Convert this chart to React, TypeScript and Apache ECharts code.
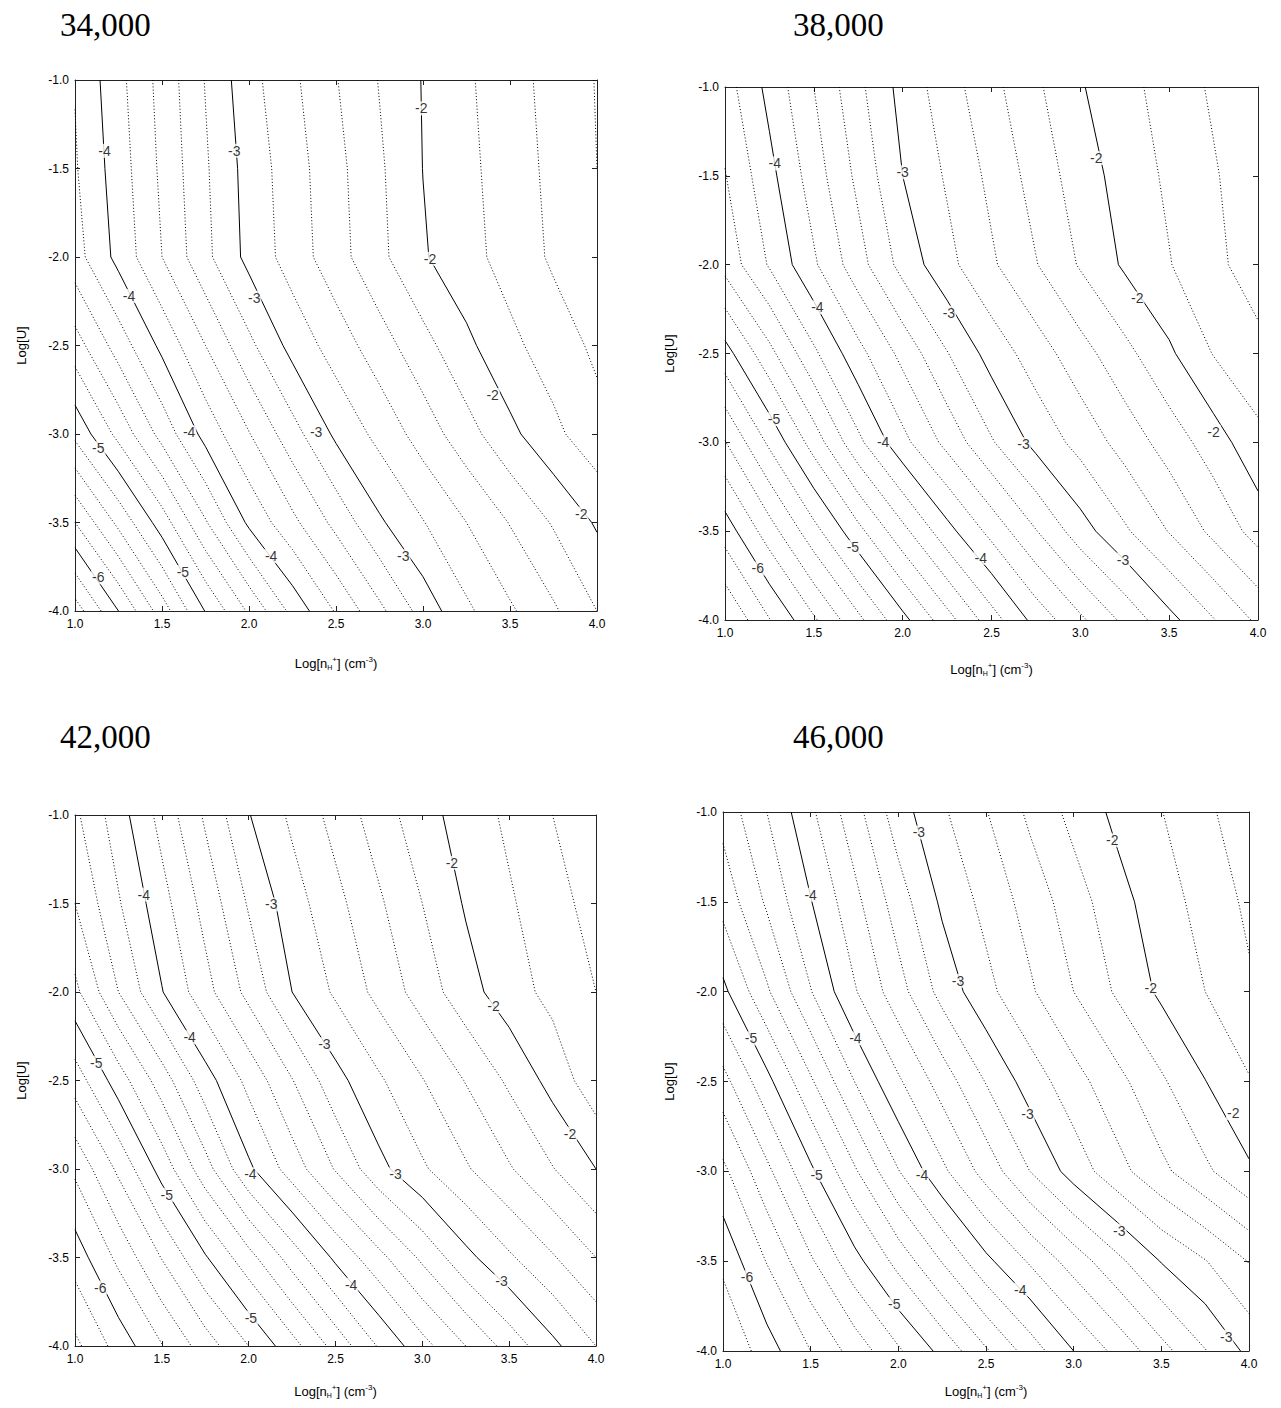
import React, { useEffect, useRef } from "react";
import * as echarts from "echarts";

// Grid nodes of the model field (log n_H+ across, log U down)
const X_NODES = [1.0, 1.25, 1.5, 1.75, 2.0, 2.25, 2.5, 2.75, 3.0, 3.25, 3.5, 3.75, 4.0];
const Y_NODES = [-1.0, -1.5, -2.0, -2.5, -3.0, -3.5, -4.0];

const Z_34000 = [
  [-4.19, -3.86, -3.53, -3.19, -2.87, -2.64, -2.41, -2.19, -1.99, -1.83, -1.68, -1.53, -1.39],
  [-4.22, -3.9, -3.56, -3.225, -2.92, -2.69, -2.46, -2.23, -1.997, -1.85, -1.7, -1.55, -1.4],
  [-4.28, -3.94, -3.6, -3.25, -2.94, -2.71, -2.48, -2.25, -2.02, -1.87, -1.72, -1.57, -1.43],
  [-4.69, -4.31, -3.95, -3.6, -3.25, -2.93, -2.71, -2.49, -2.27, -2.045, -1.85, -1.7, -1.56],
  [-5.15, -4.74, -4.33, -3.93, -3.61, -3.28, -2.96, -2.74, -2.51, -2.28, -2.05, -1.85, -1.67],
  [-5.8, -5.35, -4.9, -4.42, -3.96, -3.65, -3.34, -3.03, -2.81, -2.6, -2.39, -2.18, -1.975],
  [-6.5, -6.0, -5.5, -4.99, -4.57, -4.14, -3.78, -3.45, -3.12, -2.84, -2.63, -2.43, -2.2],
];
const Z_38000 = [
  [-4.29, -3.94, -3.6, -3.25, -2.93, -2.69, -2.46, -2.236, -2.017, -1.863, -1.716, -1.57, -1.42],
  [-4.41, -4.06, -3.7, -3.35, -3.0, -2.775, -2.55, -2.32, -2.1, -1.915, -1.765, -1.62, -1.47],
  [-4.53, -4.18, -3.83, -3.48, -3.13, -2.86, -2.63, -2.41, -2.18, -1.97, -1.81, -1.65, -1.5],
  [-5.08, -4.66, -4.24, -3.865, -3.54, -3.21, -2.92, -2.7, -2.48, -2.26, -2.035, -1.79, -1.66],
  [-5.61, -5.16, -4.71, -4.25, -3.86, -3.54, -3.22, -2.94, -2.73, -2.52, -2.31, -2.1, -1.855],
  [-6.11, -5.69, -5.27, -4.86, -4.46, -4.07, -3.735, -3.41, -3.09, -2.83, -2.59, -2.35, -2.12],
  [-6.6, -6.21, -5.83, -5.45, -5.06, -4.68, -4.29, -3.93, -3.64, -3.35, -3.06, -2.81, -2.56],
];
const Z_42000 = [
  [-4.44, -4.09, -3.73, -3.37, -3.01, -2.76, -2.53, -2.3, -2.08, -1.91, -1.76, -1.6, -1.44],
  [-4.6, -4.22, -3.875, -3.53, -3.18, -2.89, -2.66, -2.43, -2.2, -1.98, -1.825, -1.675, -1.525],
  [-4.85, -4.4, -4.01, -3.67, -3.34, -3.0, -2.77, -2.54, -2.31, -2.08, -1.89, -1.74, -1.6],
  [-5.31, -4.9, -4.5, -4.09, -3.74, -3.41, -3.07, -2.83, -2.61, -2.39, -2.165, -1.93, -1.67],
  [-5.76, -5.36, -4.92, -4.48, -4.04, -3.705, -3.385, -3.06, -2.83, -2.625, -2.42, -2.21, -2.0],
  [-6.11, -5.75, -5.39, -5.02, -4.67, -4.31, -3.96, -3.66, -3.36, -3.06, -2.83, -2.62, -2.4],
  [-6.45, -6.12, -5.81, -5.5, -5.2, -4.875, -4.53, -4.18, -3.87, -3.6, -3.32, -3.05, -2.8],
];
const Z_46000 = [
  [-4.53, -4.2, -3.84, -3.48, -3.09, -2.83, -2.61, -2.36, -2.136, -1.95, -1.806, -1.64, -1.485],
  [-4.73, -4.37, -4.01, -3.66, -3.3, -2.964, -2.74, -2.52, -2.295, -2.07, -1.89, -1.726, -1.56],
  [-5.05, -4.63, -4.21, -3.82, -3.48, -3.13, -2.86, -2.63, -2.4, -2.17, -1.96, -1.8, -1.63],
  [-5.47, -5.06, -4.63, -4.2, -3.83, -3.51, -3.19, -2.91, -2.68, -2.46, -2.23, -2.005, -1.815],
  [-5.85, -5.45, -5.04, -4.63, -4.21, -3.845, -3.52, -3.2, -2.915, -2.67, -2.45, -2.24, -2.03],
  [-6.15, -5.79, -5.43, -5.07, -4.73, -4.39, -4.05, -3.775, -3.51, -3.25, -2.99, -2.81, -2.59],
  [-6.4, -6.09, -5.8, -5.52, -5.23, -4.94, -4.625, -4.31, -4.0, -3.74, -3.47, -3.21, -2.95],
];

// Contour label positions [x, y, level]
const LABELS_34000 = [
  [2.99, -1.16, -2], [3.04, -2.01, -2], [3.4, -2.78, -2], [3.91, -3.45, -2],
  [1.915, -1.4, -3], [2.03, -2.23, -3], [2.386, -2.99, -3], [2.887, -3.69, -3],
  [1.17, -1.4, -4], [1.31, -2.22, -4], [1.656, -2.99, -4], [2.127, -3.69, -4],
  [1.134, -3.08, -5], [1.62, -3.78, -5],
  [1.134, -3.81, -6],
];
const LABELS_38000 = [
  [3.09, -1.4, -2], [3.32, -2.19, -2], [3.75, -2.94, -2],
  [2.0, -1.48, -3], [2.26, -2.27, -3], [2.68, -3.01, -3], [3.24, -3.66, -3],
  [1.28, -1.43, -4], [1.52, -2.24, -4], [1.89, -3.0, -4], [2.44, -3.65, -4],
  [1.276, -2.87, -5], [1.72, -3.59, -5],
  [1.184, -3.71, -6],
];
const LABELS_42000 = [
  [3.17, -1.27, -2], [3.41, -2.08, -2], [3.85, -2.8, -2],
  [2.13, -1.505, -3], [2.436, -2.295, -3], [2.846, -3.03, -3], [3.456, -3.63, -3],
  [1.396, -1.45, -4], [1.66, -2.256, -4], [2.01, -3.03, -4], [2.59, -3.654, -4],
  [1.122, -2.4, -5], [1.528, -3.146, -5], [2.013, -3.84, -5],
  [1.145, -3.67, -6],
];
const LABELS_46000 = [
  [3.22, -1.157, -2], [3.44, -1.98, -2], [3.91, -2.676, -2],
  [2.117, -1.114, -3], [2.34, -1.94, -3], [2.737, -2.68, -3], [3.26, -3.33, -3], [3.87, -3.92, -3],
  [1.5, -1.46, -4], [1.755, -2.26, -4], [2.135, -3.02, -4], [2.695, -3.66, -4],
  [1.16, -2.26, -5], [1.534, -3.02, -5], [1.977, -3.74, -5],
  [1.137, -3.59, -6],
];

const TITLES = ["34,000", "38,000", "42,000", "46,000"];
const FIELDS = [Z_34000, Z_38000, Z_42000, Z_46000];
const LABEL_SETS = [LABELS_34000, LABELS_38000, LABELS_42000, LABELS_46000];

// Contour levels: every 0.2 dex, integer levels drawn solid
const LEVEL_MIN_K = -35;
const LEVEL_MAX_K = -5;
const LEVEL_STEP = 0.2;

const LAYOUT = [
  { left: 67, top: 72, width: 522, height: 531, titleX: 52, titleY: 17, xNameGap: 44, yNameGap: 47 },
  { left: 717, top: 79, width: 533, height: 533, titleX: 785, titleY: 17, xNameGap: 41, yNameGap: 49 },
  { left: 67, top: 807, width: 521, height: 531, titleX: 52, titleY: 729, xNameGap: 37, yNameGap: 47 },
  { left: 715, top: 804, width: 526, height: 539, titleX: 785, titleY: 729, xNameGap: 32, yNameGap: 47 },
];

function traceContours(z: number[][], level: number): number[][][] {
  const L = level + 1e-6;
  const pts = new Map<string, number[]>();
  const adj = new Map<string, string[]>();
  const edge = (key: string, x1: number, y1: number, v1: number, x2: number, y2: number, v2: number) => {
    if ((v1 - L) * (v2 - L) >= 0) return null;
    if (!pts.has(key)) {
      const t = (L - v1) / (v2 - v1);
      pts.set(key, [x1 + t * (x2 - x1), y1 + t * (y2 - y1)]);
    }
    return key;
  };
  const link = (a: string, b: string) => {
    if (!adj.has(a)) adj.set(a, []);
    if (!adj.has(b)) adj.set(b, []);
    adj.get(a)!.push(b);
    adj.get(b)!.push(a);
  };
  for (let r = 0; r < Y_NODES.length - 1; r++) {
    for (let c = 0; c < X_NODES.length - 1; c++) {
      const x0 = X_NODES[c], x1 = X_NODES[c + 1], y0 = Y_NODES[r], y1 = Y_NODES[r + 1];
      const a = z[r][c], b = z[r][c + 1], d = z[r + 1][c], e = z[r + 1][c + 1];
      const top = edge(`h${r}_${c}`, x0, y0, a, x1, y0, b);
      const right = edge(`v${r}_${c + 1}`, x1, y0, b, x1, y1, e);
      const bottom = edge(`h${r + 1}_${c}`, x0, y1, d, x1, y1, e);
      const left = edge(`v${r}_${c}`, x0, y0, a, x0, y1, d);
      const ks = [top, right, bottom, left].filter((k) => k !== null) as string[];
      if (ks.length === 2) link(ks[0], ks[1]);
      else if (ks.length === 4) {
        const m = (a + b + d + e) / 4;
        if ((m - L) * (a - L) < 0) {
          link(top!, left!);
          link(bottom!, right!);
        } else {
          link(top!, right!);
          link(bottom!, left!);
        }
      }
    }
  }
  const visited = new Set<string>();
  const chains: number[][][] = [];
  const walk = (start: string) => {
    const chain: number[][] = [];
    let prev: string | null = null;
    let cur: string | undefined = start;
    while (cur !== undefined && !visited.has(cur)) {
      visited.add(cur);
      chain.push(pts.get(cur)!);
      const nb = adj.get(cur)!.filter((n) => n !== prev && !visited.has(n));
      prev = cur;
      cur = nb[0];
    }
    if (chain.length > 1) chains.push(chain);
  };
  adj.forEach((nbs, k) => {
    if (nbs.length === 1 && !visited.has(k)) walk(k);
  });
  adj.forEach((_nbs, k) => {
    if (!visited.has(k)) walk(k);
  });
  return chains;
}

const FONT = "Liberation Sans, Arial, sans-serif";

function buildOption() {
  const grid: any[] = [];
  const xAxis: any[] = [];
  const yAxis: any[] = [];
  const series: any[] = [];
  const graphic: any[] = [];
  const axisLine = { show: true, onZero: false, lineStyle: { color: "#222", width: 1 } };
  const axisTick = { show: true, inside: true, length: 5, lineStyle: { color: "#222", width: 1 } };

  LAYOUT.forEach((g, i) => {
    grid.push({ left: g.left, top: g.top, width: g.width, height: g.height, containLabel: false });
    const xCommon = { type: "value", gridIndex: i, min: 1.0, max: 4.0, interval: 0.5, splitLine: { show: false }, axisLine, axisTick };
    const yCommon = { type: "value", gridIndex: i, min: -4.0, max: -1.0, interval: 0.5, splitLine: { show: false }, axisLine, axisTick };
    xAxis.push({
      ...xCommon,
      position: "bottom",
      axisLabel: { show: true, fontSize: 12, color: "#000", fontFamily: FONT, margin: 7, formatter: (v: number) => v.toFixed(1) },
      name: "{n|Log[n}{s|H}{p|+}{n|] (cm}{p|-3}{n|)}",
      nameLocation: "middle",
      nameGap: g.xNameGap,
      nameTextStyle: {
        fontSize: 13,
        fontFamily: FONT,
        color: "#000",
        rich: {
          n: { fontSize: 13, fontFamily: FONT, color: "#000", lineHeight: 16 },
          s: { fontSize: 7, fontFamily: FONT, color: "#000", lineHeight: 7, verticalAlign: "bottom" },
          p: { fontSize: 8, fontFamily: FONT, color: "#000", lineHeight: 8, verticalAlign: "top" },
        },
      },
    });
    xAxis.push({ ...xCommon, position: "top", axisLabel: { show: false } });
    yAxis.push({
      ...yCommon,
      position: "left",
      axisLabel: { show: true, fontSize: 12, color: "#000", fontFamily: FONT, margin: 6, formatter: (v: number) => v.toFixed(1) },
      name: "Log[U]",
      nameLocation: "middle",
      nameGap: g.yNameGap,
      nameTextStyle: { fontSize: 13, fontFamily: FONT, color: "#000" },
    });
    yAxis.push({ ...yCommon, position: "right", axisLabel: { show: false } });

    const z = FIELDS[i];
    for (let k = LEVEL_MIN_K; k <= LEVEL_MAX_K; k++) {
      const level = k * LEVEL_STEP;
      const solid = k % 5 === 0;
      const chains = traceContours(z, level);
      chains.forEach((chain) => {
        series.push({
          type: "line",
          xAxisIndex: 2 * i,
          yAxisIndex: 2 * i,
          data: chain,
          symbol: "none",
          showSymbol: false,
          silent: true,
          z: solid ? 3 : 2,
          lineStyle: solid
            ? { color: "#000", width: 1, type: "solid" }
            : { color: "#000", width: 1, type: [1, 2.2] },
        });
      });
    }

    series.push({
      type: "scatter",
      xAxisIndex: 2 * i,
      yAxisIndex: 2 * i,
      data: LABEL_SETS[i].map((l) => [l[0], l[1], l[2]]),
      symbol: "circle",
      symbolSize: 1,
      silent: true,
      z: 6,
      itemStyle: { color: "rgba(0,0,0,0)" },
      label: {
        show: true,
        position: "inside",
        formatter: (p: any) => String(p.value[2]),
        color: "#000",
        fontSize: 14,
        fontFamily: FONT,
        backgroundColor: "#fff",
        padding: [0, 1, 0, 1],
      },
    });

    graphic.push({
      type: "text",
      x: g.titleX,
      y: g.titleY,
      style: {
        text: TITLES[i],
        font: '33px "Liberation Serif", "Times New Roman", serif',
        fill: "#000",
        textVerticalAlign: "middle",
        verticalAlign: "middle",
      },
    });
  });

  return { animation: false, backgroundColor: "#fff", grid, xAxis, yAxis, series, graphic };
}

export default function App() {
  const ref = useRef<HTMLDivElement>(null);
  useEffect(() => {
    if (!ref.current) return;
    const chart = echarts.init(ref.current, undefined, { renderer: "svg" });
    chart.setOption(buildOption() as any);
    return () => chart.dispose();
  }, []);
  return <div ref={ref} style={{ width: 1265, height: 1392 }} />;
}
